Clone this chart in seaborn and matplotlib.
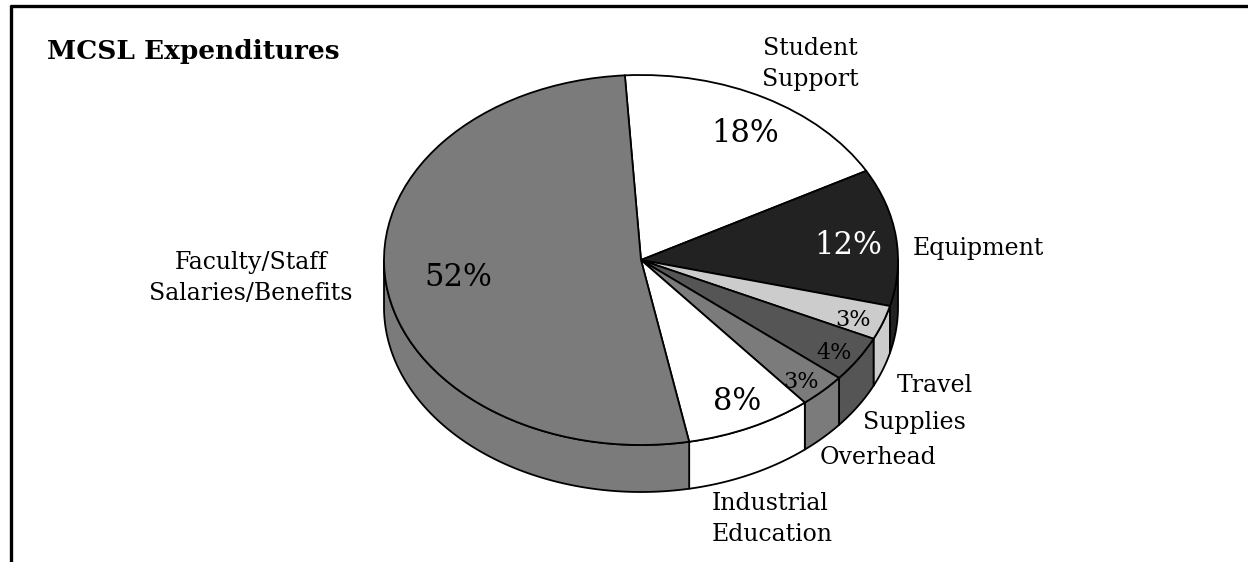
import numpy as np
import matplotlib
matplotlib.use("Agg")
import matplotlib.pyplot as plt
import seaborn as sns
from matplotlib.patches import Polygon

# ---- data ----
categories = ["Student\nSupport", "Equipment", "Travel", "Supplies", "Overhead",
              "Industrial\nEducation", "Faculty/Staff\nSalaries/Benefits"]
values = [18, 12, 3, 4, 3, 8, 52]
colors = ["#ffffff", "#222222", "#cccccc", "#555555", "#7b7b7b", "#ffffff", "#7b7b7b"]
pct_labels = [f"{v}%" for v in values]
title = "MCSL Expenditures"

# ---- layout (pixels) ----
cat_pos = [(810, 64, "center"), (913, 248, "left"), (897, 385, "left"), (863, 423, "left"),
           (820, 457, "left"), (712, 519, "left"), (251, 278, "center")]
pct_pos = [(745, 134, 22, "black"), (848, 245, 22, "white"), (853, 320, 16, "black"),
           (834, 353, 16, "black"), (801, 382, 16, "black"), (737, 402, 22, "black"),
           (458, 277, 22, "black")]

sns.set_theme(style="white")
plt.rcParams['font.family'] = ['DejaVu Serif']
plt.rcParams['text.color'] = 'black'

W, H = 1248, 562
fig = plt.figure(figsize=(W / 100, H / 100), dpi=100)
fig.patch.set_facecolor('white')

cx, cy, rx, ry, depth = 641, 260, 257, 185, 47
xl, xh, yl, yh = -1.3, 1.3, -1.5, 1.3
ax = fig.add_axes([(cx + xl * rx) / W, (H - (cy - yl * ry)) / H,
                   (xh - xl) * rx / W, (yh - yl) * ry / H])
start = 93.6
d = depth / ry

# side walls (front-facing parts)
total = sum(values)
ang = start
for v, c in zip(values, colors):
    a2 = ang
    a1 = ang - v / total * 360
    ang = a1
    for shift in (0, -360, 360):
        lo = max(a1 + shift, -180)
        hi = min(a2 + shift, 0)
        if hi > lo:
            t = np.radians(np.linspace(lo, hi, 120))
            xs, ys = np.cos(t), np.sin(t)
            pts = np.concatenate([np.column_stack([xs, ys]),
                                  np.column_stack([xs[::-1], ys[::-1] - d])])
            ax.add_patch(Polygon(pts, closed=True, facecolor=c, edgecolor='black',
                                 lw=1.3, zorder=1, joinstyle='round'))

ax.pie(values, colors=colors, startangle=start, counterclock=False, radius=1,
       wedgeprops=dict(edgecolor='black', linewidth=1.3, zorder=2))
ax.set_aspect('auto')
ax.set_xlim(xl, xh)
ax.set_ylim(yl, yh)
ax.axis('off')

# overlay in pixel coordinates
ov = fig.add_axes([0, 0, 1, 1], zorder=5)
ov.set_xlim(0, W)
ov.set_ylim(H, 0)
ov.axis('off')
ov.plot([10, W], [6, 6], color='black', lw=2.4, solid_capstyle='butt')
ov.plot([11, 11], [5, H], color='black', lw=2.4, solid_capstyle='butt')

ov.text(47, 52, title, fontsize=19, fontweight='bold', ha='left', va='center',
        color='black')
for lab, (x, y, ha) in zip(categories, cat_pos):
    ov.text(x, y, lab, fontsize=17, ha=ha, va='center', multialignment=ha,
            linespacing=1.4, color='black')
for lab, (x, y, fs, col) in zip(pct_labels, pct_pos):
    ov.text(x, y, lab, fontsize=fs, ha='center', va='center', color=col)

fig.savefig("out.png", dpi=100)
